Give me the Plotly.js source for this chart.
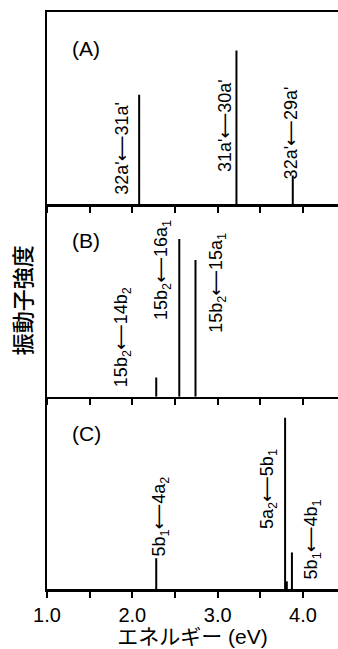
<!DOCTYPE html>
<html>
<head>
<meta charset="utf-8">
<script src="https://cdn.plot.ly/plotly-3.0.1.min.js"></script>
<style>
  html, body { margin: 0; padding: 0; background: #fff; }
  #chart { width: 338px; height: 649px; }
</style>
</head>
<body>
<div id="chart"></div>
<script>
// エネルギー (eV) と振動子強度（相対値）— パネルごと
const energyA = [2.08, 3.22, 3.88];
const strengthA = [0.57, 0.80, 0.15];
const labelsA = ["32a'←31a'", "31a'←30a'", "32a'←29a'"];

const energyB = [2.28, 2.55, 2.74];
const strengthB = [0.10, 0.82, 0.71];
const labelsB = ["15b<sub>2</sub>←14b<sub>2</sub>", "15b<sub>2</sub>←16a<sub>1</sub>", "15b<sub>2</sub>←15a<sub>1</sub>"];

const energyC = [2.28, 3.79, 3.81, 3.87];
const strengthC = [0.16, 0.89, 0.04, 0.19];
const labelsC = ["5b<sub>1</sub>←4a<sub>2</sub>", "5a<sub>2</sub>←5b<sub>1</sub>", "5b<sub>1</sub>←4b<sub>1</sub>"];

const panelNames = ['(A)', '(B)', '(C)'];
const tickVals = [1.0, 1.5, 2.0, 2.5, 3.0, 3.5, 4.0];
const tickText = ['1.0', '', '2.0', '', '3.0', '', '4.0'];

// ラベル位置（データ座標）
const labelPosA = [[1.87, 0.29], [3.08, 0.41], [3.85, 0.37]];
const labelPosB = [[1.88, 0.31], [2.35, 0.66], [3.00, 0.59]];
const labelPosC = [[2.32, 0.375], [3.59, 0.52], [4.11, 0.26]];

const FONT = 'Liberation Sans, Arial, Noto Sans CJK JP, sans-serif';

function sticks(energy, strength, xa, ya) {
  const x = [], y = [];
  energy.forEach((e, i) => { x.push(e, e, null); y.push(0, strength[i], null); });
  return { x, y, xaxis: xa, yaxis: ya, type: 'scatter', mode: 'lines',
           line: { color: '#000', width: 2 }, hoverinfo: 'skip', showlegend: false };
}

function labelAnns(labels, pos, xref, yref) {
  return labels.map((t, i) => ({
    text: t.replace('←', '<span style="font-family:DejaVu Sans">⟵</span>'),
    x: pos[i][0], y: pos[i][1], xref, yref,
    textangle: -90, showarrow: false, xanchor: 'center', yanchor: 'middle',
    font: { family: FONT, size: 18, color: '#000' }
  }));
}

function xAxis(anchor, showLabels, mirror) {
  return {
    anchor, domain: [0, 1], range: [1.0, 4.41],
    showline: true, linecolor: '#000', linewidth: 2.5, mirror,
    ticks: 'outside', ticklen: 6, tickwidth: 2, tickcolor: '#000',
    tickmode: 'array', tickvals: tickVals, ticktext: tickText,
    showticklabels: showLabels, showgrid: false, zeroline: false,
    tickfont: { family: FONT, size: 20, color: '#000' }
  };
}

function yAxis(anchor, domain) {
  return {
    anchor, domain, range: [0, 1],
    showline: true, linecolor: '#000', linewidth: 2.5,
    ticks: '', showticklabels: false, showgrid: false, zeroline: false
  };
}

const traces = [
  sticks(energyC, strengthC, 'x', 'y'),
  sticks(energyB, strengthB, 'x2', 'y2'),
  sticks(energyA, strengthA, 'x3', 'y3')
];

const panelAnns = [['y3', 0], ['y2', 1], ['y', 2]].map(([yr, i]) => ({
  text: panelNames[i], xref: 'paper', yref: yr + ' domain', x: 0.135, y: 0.81,
  showarrow: false, xanchor: 'center', yanchor: 'middle',
  font: { family: FONT, size: 21, color: '#000' }
}));

const layout = {
  width: 338, height: 649,
  margin: { l: 47, r: 0, t: 12, b: 60 },
  paper_bgcolor: '#fff', plot_bgcolor: '#fff',
  showlegend: false,
  xaxis: Object.assign(xAxis('y', true, false), {
    title: { text: 'エネルギー (eV)', font: { family: FONT, size: 21, color: '#000' }, standoff: 5 }
  }),
  xaxis2: xAxis('y2', false, false),
  xaxis3: xAxis('y3', false, true),
  yaxis: yAxis('x', [0, 1 / 3]),
  yaxis2: yAxis('x2', [1 / 3, 2 / 3]),
  yaxis3: yAxis('x3', [2 / 3, 1]),
  annotations: [
    ...labelAnns(labelsA, labelPosA, 'x3', 'y3'),
    ...labelAnns(labelsB, labelPosB, 'x2', 'y2'),
    ...labelAnns(labelsC, labelPosC, 'x', 'y'),
    ...panelAnns,
    {
      text: '振動子強度', xref: 'paper', yref: 'paper', x: -0.09, y: 0.5,
      textangle: -90, showarrow: false, xanchor: 'center', yanchor: 'middle',
      font: { family: 'Noto Sans CJK JP, sans-serif', size: 22, color: '#000', weight: 500 }
    }
  ]
};

Plotly.newPlot('chart', traces, layout, { displayModeBar: false, staticPlot: true });
</script>
</body>
</html>
